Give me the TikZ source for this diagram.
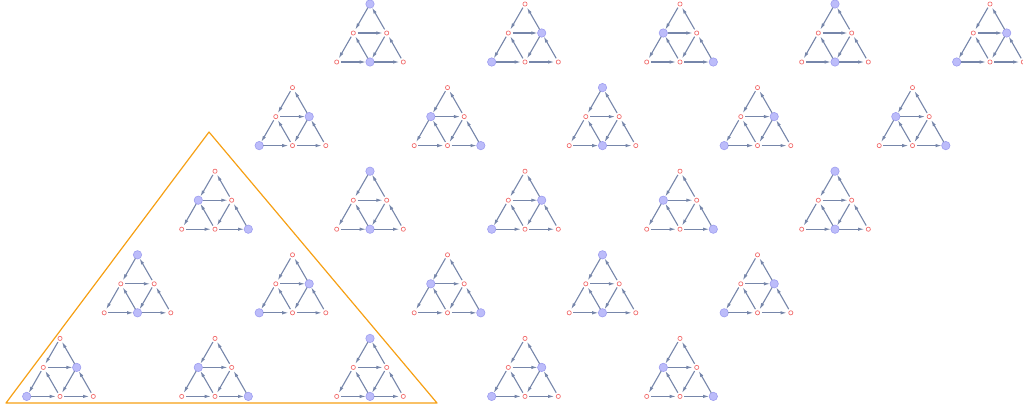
\documentclass[tikz,border=0pt]{standalone}
\usetikzlibrary{arrows.meta}
\definecolor{edgeblue}{RGB}{118,134,170}
\definecolor{leafred}{RGB}{242,112,112}
\definecolor{hubfill}{RGB}{188,188,250}
\definecolor{hubline}{RGB}{158,158,240}
\definecolor{frameorange}{RGB}{246,160,20}

\begin{document}
\begin{tikzpicture}[x=1pt,y=-1pt,
  leaf/.style={circle,draw=leafred,fill=white,line width=0.7pt,inner sep=0pt,minimum size=4.2pt},
  hub/.style={circle,draw=hubline,fill=hubfill,line width=0.6pt,inner sep=0pt,minimum size=8.4pt},
  link/.style={draw=edgeblue,line width=1.1pt,-{Latex[length=6.5pt,width=3.4pt]},shorten <=4.2pt,shorten >=3.8pt}]
\useasboundingbox (0,0) rectangle (1023,413);
% frame round the lower left block
\draw[frameorange,line width=1.2pt,line join=round] (209,132) -- (6,403) -- (437,403) -- cycle;
% 5 x 5 grid of graphs, hub pair shifts with (row+col) mod 3
\foreach \r in {0,...,4}{
  \foreach \c in {0,...,4}{
    \pgfmathsetmacro\cx{370-77.5*\r+155*\c}
    \pgfmathsetmacro\ty{4+83.6*\r}
    \pgfmathtruncatemacro\k{mod(\r+\c,3)}
    % vertices
    \foreach \n/\dx/\dy/\sa/\sb/\sc in {T/0/0/hub/leaf/leaf, ML/-16.7/29/leaf/leaf/hub,
        MR/16.7/29/leaf/hub/leaf, BL/-33.3/58/leaf/hub/leaf, BM/0/58/hub/leaf/leaf,
        BR/33.3/58/leaf/leaf/hub}{
      \ifcase\k \let\s\sa \or \let\s\sb \or \let\s\sc \fi
      \node[\s] (g\r\c\n) at ({\cx+(\dx)},{\ty+(\dy)}) {};
    }
    % edges
    \foreach \u/\v in {T/ML, MR/T, ML/MR, ML/BL, BM/ML, MR/BM, BR/MR, BL/BM, BM/BR}
      \draw[link] (g\r\c\u.center) -- (g\r\c\v.center);
  }
}
\end{tikzpicture}
\end{document}
